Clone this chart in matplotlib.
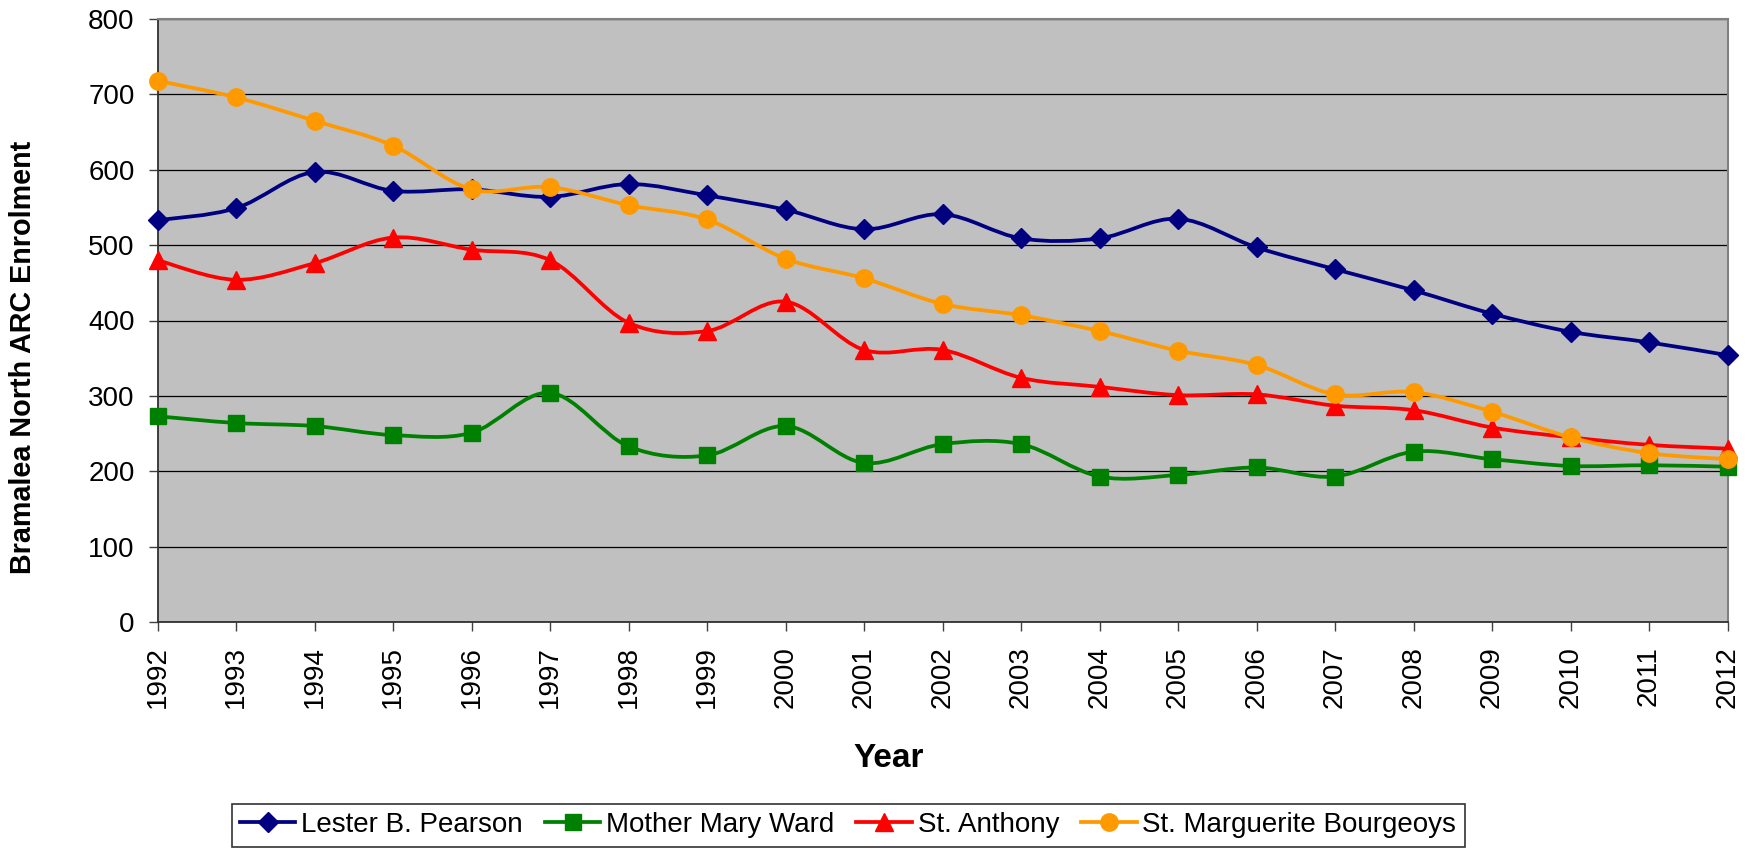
import numpy as np
import matplotlib
matplotlib.use("Agg")
import matplotlib.pyplot as plt
from matplotlib.path import Path
from matplotlib.patches import PathPatch
from matplotlib.lines import Line2D

plt.rcParams['font.family'] = ['Liberation Sans', 'DejaVu Sans']

years = list(range(1992, 2013))
lester = [533, 549, 597, 572, 574, 564, 581, 566, 547, 521, 541, 509, 509, 535,
          497, 468, 440, 409, 385, 371, 354]
mother = [273, 264, 260, 248, 251, 304, 233, 221, 260, 211, 236, 236, 193, 195,
          205, 193, 226, 216, 207, 208, 206]
anthony = [480, 454, 476, 510, 494, 480, 397, 386, 425, 361, 361, 324, 312, 301,
           302, 287, 281, 258, 245, 235, 230]
marguerite = [718, 696, 665, 632, 574, 577, 553, 534, 482, 456, 422, 407, 386, 360,
              341, 302, 305, 279, 245, 224, 216]

series = [
    ("Lester B. Pearson", lester, "#000080", "D", 10.5),
    ("Mother Mary Ward", mother, "#008000", "s", 12),
    ("St. Anthony", anthony, "#FF0000", "^", 12.5),
    ("St. Marguerite Bourgeoys", marguerite, "#FF9900", "o", 12.5),
]


def smooth_path(x, y):
    pts = np.column_stack([np.asarray(x, float), np.asarray(y, float)])
    n = len(pts)
    verts = [pts[0]]
    codes = [Path.MOVETO]
    for i in range(n - 1):
        p0 = pts[i - 1] if i > 0 else pts[i]
        p1 = pts[i]
        p2 = pts[i + 1]
        p3 = pts[i + 2] if i + 2 < n else pts[i + 1]
        c1 = p1 + (p2 - p0) / 6.0
        c2 = p2 - (p3 - p1) / 6.0
        verts += [c1, c2, p2]
        codes += [Path.CURVE4] * 3
    return Path(verts, codes)


fig = plt.figure(figsize=(17.51, 8.5), dpi=100)
ax = fig.add_axes([157.5 / 1751, 1 - 622 / 850, (1727.5 - 157.5) / 1751, (622 - 19) / 850])
ax.set_facecolor("#C0C0C0")

handles = []
for k, (name, vals, col, mk, ms) in enumerate(series):
    path = smooth_path(years, vals)
    patch = PathPatch(path, facecolor="none", edgecolor=col, lw=2.7,
                      transform=ax.transData, zorder=3 + k * 0.1, clip_on=False,
                      capstyle="round", joinstyle="round")
    ax.add_patch(patch)
    ax.plot(years, vals, ls="none", marker=mk, ms=ms, color=col, mec=col,
            zorder=3.05 + k * 0.1, clip_on=False)
    handles.append(Line2D([], [], color=col, lw=2.7, marker=mk, ms=ms, mec=col))

ax.set_xlim(1992, 2012)
ax.set_ylim(0, 800)
ax.set_xticks(years)
ax.set_xticklabels([str(y) for y in years], rotation=90, fontsize=20)
ax.set_yticks(range(0, 801, 100))
ax.set_yticklabels([str(v) for v in range(0, 801, 100)], fontsize=20)
ax.tick_params(axis="both", direction="out", length=6.5, width=1, color="#404040")
ax.tick_params(axis="x", pad=11)
ax.tick_params(axis="y", pad=10)

ax.yaxis.grid(True, color="black", lw=0.9)
ax.set_axisbelow(True)
for s in ["left", "bottom"]:
    ax.spines[s].set_color("#303030")
    ax.spines[s].set_linewidth(1.3)
for s in ["top", "right"]:
    ax.spines[s].set_color("#808080")
    ax.spines[s].set_linewidth(1.5)

fig.text(23 / 1751, 1 - 357 / 850, "Bramalea North ARC Enrolment", rotation=90,
         ha="center", va="center", fontsize=20.7, fontweight="bold")
fig.text(889 / 1751, 1 - 766.7 / 850, "Year", ha="center", va="baseline",
         fontsize=24, fontweight="bold")

leg = fig.legend(handles, [s[0] for s in series], loc="center",
                 bbox_to_anchor=(848.1 / 1751, 1 - 825.2 / 850), ncol=4,
                 fontsize=20, frameon=True, fancybox=False, edgecolor="black",
                 handlelength=2.0, handletextpad=0.2, columnspacing=0.8,
                 borderpad=0.3, borderaxespad=0)
leg.get_frame().set_linewidth(1.2)

fig.savefig("out.png", dpi=100)
